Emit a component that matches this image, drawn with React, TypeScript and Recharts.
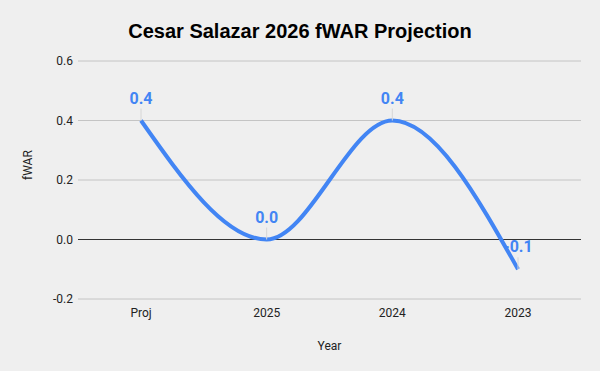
import { LineChart, Line, XAxis, YAxis, CartesianGrid, ReferenceLine, LabelList } from 'recharts';

const years = ['Proj', '2025', '2024', '2023'];
const fwar = [0.4, 0.0, 0.4, -0.1];
const yTicks = [-0.2, 0, 0.2, 0.4, 0.6];

const data = years.map((year, i) => ({ year, fwar: fwar[i] }));

const BLUE = '#4285f4';

function PointLabel(props: any) {
  const { x, y, value } = props;
  return (
    <g>
      <line x1={x} y1={y - 12} x2={x} y2={y} stroke="#d6d6d6" strokeWidth={1} />
      <text
        x={x}
        y={y - 17}
        textAnchor="middle"
        fill={BLUE}
        fontSize={16}
        fontWeight="bold"
        fontFamily="Roboto, Arial, sans-serif"
      >
        {Number(value).toFixed(1)}
      </text>
    </g>
  );
}

export default function App() {
  return (
    <div style={{ position: 'absolute', left: 0, top: 0, width: 600, height: 371, background: '#efefef' }}>
      <div
        style={{
          position: 'absolute',
          top: 20,
          left: 0,
          width: 600,
          textAlign: 'center',
          fontFamily: 'Arial, "Liberation Sans", sans-serif',
          fontWeight: 'bold',
          fontSize: 20,
          color: '#000',
        }}
      >
        Cesar Salazar 2026 fWAR Projection
      </div>
      <LineChart width={600} height={371} data={data} margin={{ top: 61, right: 19, bottom: 30, left: 20 }}>
        <CartesianGrid vertical={false} stroke="#c4c4c4" />
        <XAxis
          dataKey="year"
          axisLine={false}
          tickLine={false}
          tickSize={0}
          tickMargin={9}
          height={42}
          padding={{ left: 63, right: 63 }}
          tick={{ fontSize: 12, fill: '#222', fontFamily: 'Roboto, Arial, sans-serif' }}
          label={{ value: 'Year', position: 'insideBottom', offset: -9, fontSize: 12, fill: '#222', fontFamily: 'Roboto, Arial, sans-serif' }}
        />
        <YAxis
          domain={[-0.2, 0.6]}
          ticks={yTicks}
          width={58}
          axisLine={false}
          tickLine={false}
          tickSize={0}
          tickMargin={5}
          tickFormatter={(v: number) => v.toFixed(1)}
          tick={{ fontSize: 12, fill: '#222', fontFamily: 'Roboto, Arial, sans-serif' }}
          label={{ value: 'fWAR', angle: -90, position: 'insideLeft', offset: 8, fontSize: 12, fill: '#222', fontFamily: 'Roboto, Arial, sans-serif' }}
        />
        <ReferenceLine y={0} stroke="#333" strokeWidth={1.2} />
        <Line
          type="monotone"
          dataKey="fwar"
          stroke={BLUE}
          strokeWidth={4}
          dot={false}
          activeDot={false}
          isAnimationActive={false}
        >
          <LabelList dataKey="fwar" content={PointLabel} />
        </Line>
      </LineChart>
    </div>
  );
}
